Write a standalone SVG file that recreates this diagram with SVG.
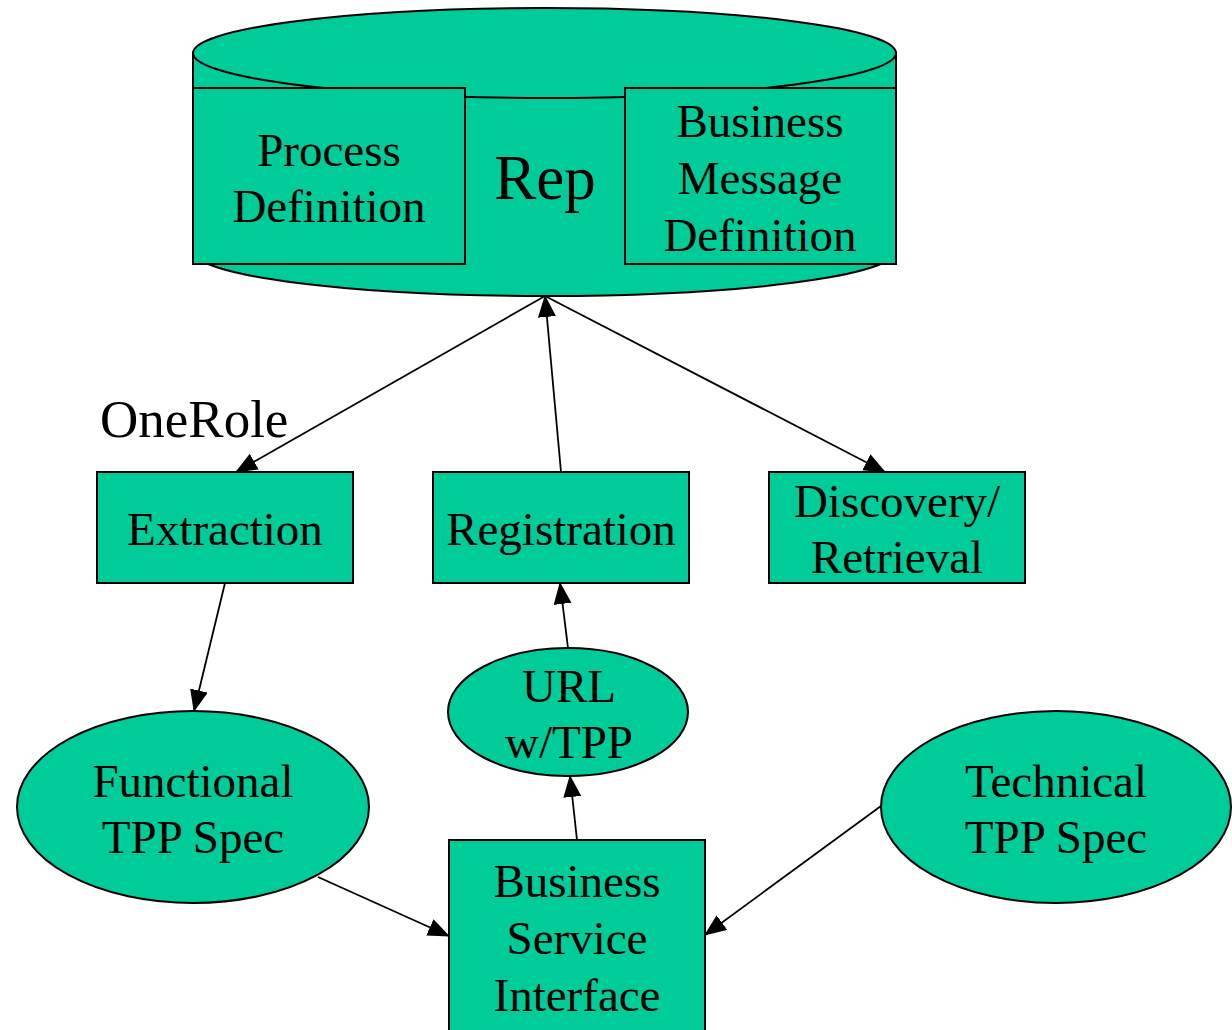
<svg xmlns="http://www.w3.org/2000/svg" width="1232" height="1030" viewBox="0 0 1232 1030">
<style>
.shape{fill:#00CC99;stroke:#000;stroke-width:2}
.t{font-family:"Liberation Serif","Times New Roman",serif;font-size:47px;fill:#000;text-anchor:middle}
.edge{stroke:#000;stroke-width:1.8;fill:none;marker-end:url(#ah)}
</style>
<defs>
<marker id="ah" markerUnits="userSpaceOnUse" markerWidth="22" markerHeight="20" refX="21" refY="9" orient="auto">
<path d="M0,0 L22,9 L0,18 z" fill="#000"/>
</marker>
</defs>
<rect width="1232" height="1030" fill="#fff"/>
<g id="rep">
<path class="shape" d="M193,53 L193,251 A351.5,45 0 0 0 896,251 L896,53 Z"/>
<ellipse class="shape" cx="544.5" cy="53" rx="351.5" ry="45"/>
<text class="t" x="545" y="199" style="font-size:63px">Rep</text>
</g>
<g id="process-definition">
<rect class="shape" x="193" y="88" width="272" height="176"/>
<text class="t" x="329" y="166">Process</text>
<text class="t" x="329" y="222">Definition</text>
</g>
<g id="business-message-definition">
<rect class="shape" x="625" y="88" width="271" height="176"/>
<text class="t" x="760" y="137">Business</text>
<text class="t" x="760" y="194">Message</text>
<text class="t" x="760" y="251">Definition</text>
</g>
<g id="onerole">
<text class="t" x="100" y="437" style="font-size:53px;text-anchor:start">OneRole</text>
</g>
<g id="extraction">
<rect class="shape" x="97" y="472" width="256" height="111"/>
<text class="t" x="225" y="545">Extraction</text>
</g>
<g id="registration">
<rect class="shape" x="433" y="472" width="256" height="111"/>
<text class="t" x="561" y="545">Registration</text>
</g>
<g id="discovery">
<rect class="shape" x="769" y="472" width="256" height="111"/>
<text class="t" x="897" y="517">Discovery/</text>
<text class="t" x="897" y="573">Retrieval</text>
</g>
<g id="url">
<ellipse class="shape" cx="568" cy="712" rx="120" ry="64"/>
<text class="t" x="569" y="702">URL</text>
<text class="t" x="569" y="758">w/TPP</text>
</g>
<g id="functional">
<ellipse class="shape" cx="193" cy="807" rx="176" ry="96"/>
<text class="t" x="193" y="797">Functional</text>
<text class="t" x="193" y="853">TPP Spec</text>
</g>
<g id="technical">
<ellipse class="shape" cx="1056" cy="807" rx="175" ry="96"/>
<text class="t" x="1056" y="797">Technical</text>
<text class="t" x="1056" y="853">TPP Spec</text>
</g>
<g id="bsi">
<rect class="shape" x="449" y="840" width="256" height="200"/>
<text class="t" x="577" y="897">Business</text>
<text class="t" x="577" y="954">Service</text>
<text class="t" x="577" y="1011">Interface</text>
</g>
<g id="connectors">
<line class="edge" x1="545" y1="296" x2="236" y2="472"/>
<line class="edge" x1="561" y1="472" x2="545" y2="296"/>
<line class="edge" x1="545" y1="296" x2="885" y2="472"/>
<line class="edge" x1="225" y1="583" x2="194" y2="711"/>
<line class="edge" x1="568" y1="648" x2="560" y2="583"/>
<line class="edge" x1="577" y1="840" x2="570" y2="776"/>
<line class="edge" x1="318" y1="877" x2="449" y2="936"/>
<line class="edge" x1="881" y1="806" x2="705" y2="935"/>
</g>
</svg>
